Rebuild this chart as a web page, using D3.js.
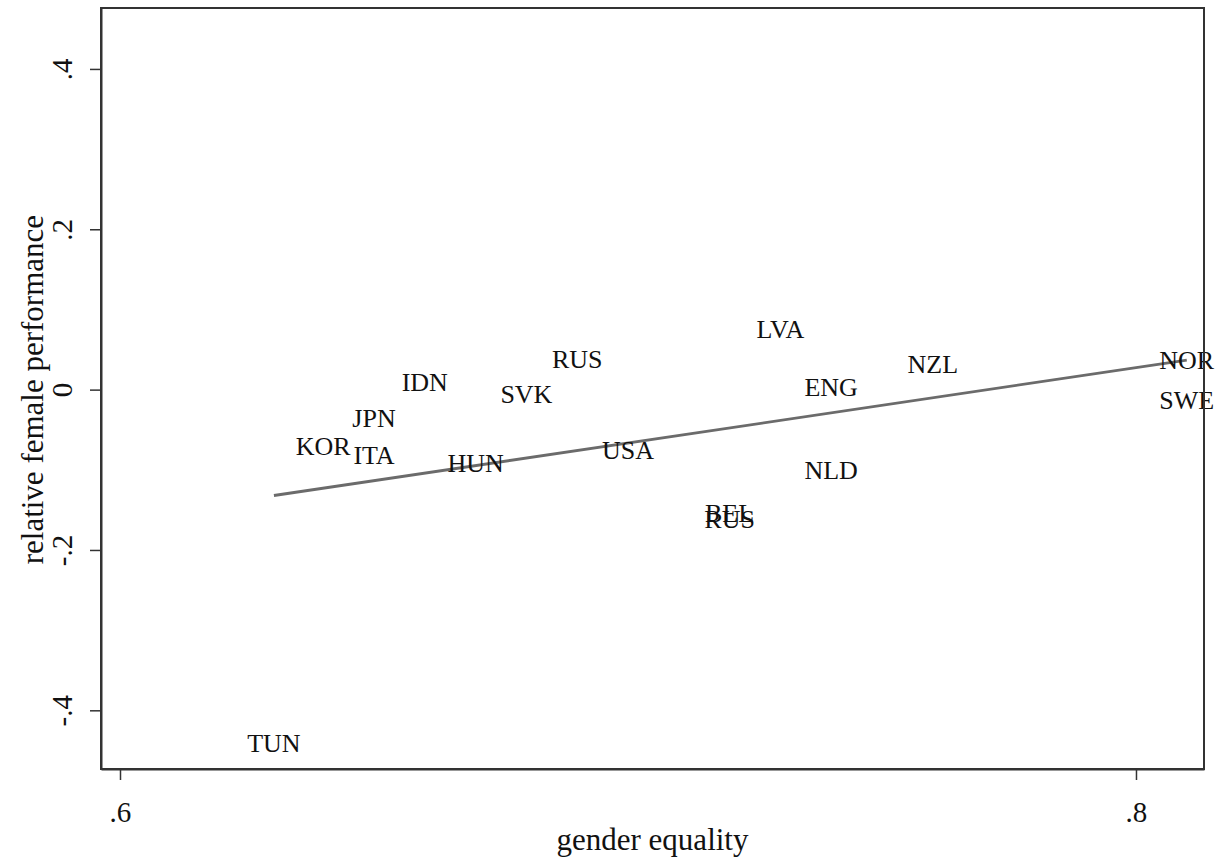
<!DOCTYPE html>
<html>
<head>
<meta charset="utf-8">
<script src="https://cdn.jsdelivr.net/npm/d3@7"></script>
<style>
  html, body { margin: 0; padding: 0; background: #fff; }
  svg { display: block; font-family: "Liberation Serif", "Times New Roman", serif; }
</style>
</head>
<body>
<svg id="chart" width="1216" height="860"></svg>
<script>
// Country codes, gender equality index and relative female performance
const countries = ["TUN", "KOR", "ITA", "JPN", "IDN", "HUN", "SVK", "RUS", "USA",
                   "BEL", "RUS", "LVA", "ENG", "NLD", "NZL", "NOR", "SWE"];
const genderEquality = [0.6303, 0.640, 0.650, 0.650, 0.660, 0.670, 0.680, 0.690, 0.700,
                        0.720, 0.720, 0.730, 0.740, 0.740, 0.760, 0.810, 0.810];
const femalePerf = [-0.441, -0.0705, -0.082, -0.0356, 0.0094, -0.0917, -0.0056, 0.038, -0.0755,
                    -0.155, -0.1616, 0.0755, 0.0031, -0.1004, 0.0318, 0.0368, -0.0131];

const xTicks = [0.6, 0.8];
const xTickLabels = [".6", ".8"];
const yTicks = [-0.4, -0.2, 0, 0.2, 0.4];
const yTickLabels = ["-.4", "-.2", "0", ".2", ".4"];

const W = 1216, H = 860;
const margin = { top: 8, right: 12, bottom: 91, left: 101 };

const svg = d3.select("#chart");

const x = d3.scaleLinear().domain([0.59626, 0.81339]).range([margin.left, W - margin.right]);
const y = d3.scaleLinear().domain([-0.4732, 0.476]).range([H - margin.bottom, margin.top]);

// Linear fit (OLS) of performance on gender equality
const n = genderEquality.length;
const mx = d3.mean(genderEquality), my = d3.mean(femalePerf);
let sxy = 0, sxx = 0;
for (let i = 0; i < n; i++) {
  sxy += (genderEquality[i] - mx) * (femalePerf[i] - my);
  sxx += (genderEquality[i] - mx) ** 2;
}
const slope = sxy / sxx, intercept = my - slope * mx;
const xMin = d3.min(genderEquality), xMax = d3.max(genderEquality);
const fit = [[xMin, intercept + slope * xMin], [xMax, intercept + slope * xMax]];

svg.append("path")
  .datum(fit)
  .attr("d", d3.line().x(d => x(d[0])).y(d => y(d[1])))
  .attr("fill", "none")
  .attr("stroke", "#6b6b6b")
  .attr("stroke-width", 2.8);

// Country labels used as markers
svg.append("g")
  .selectAll("text")
  .data(countries)
  .join("text")
  .attr("x", (d, i) => x(genderEquality[i]))
  .attr("y", (d, i) => y(femalePerf[i]))
  .attr("dy", "0.33em")
  .attr("text-anchor", "middle")
  .attr("font-size", 26)
  .attr("fill", "#111")
  .text(d => d);

// Plot region outline
svg.append("rect")
  .attr("x", margin.left)
  .attr("y", margin.top)
  .attr("width", W - margin.left - margin.right)
  .attr("height", H - margin.top - margin.bottom)
  .attr("fill", "none")
  .attr("stroke", "#333")
  .attr("stroke-width", 2);

// Y axis
const yAxis = svg.append("g")
  .attr("transform", `translate(${margin.left},0)`)
  .call(d3.axisLeft(y).tickValues(yTicks).tickSize(11).tickSizeOuter(0)
        .tickFormat((d, i) => yTickLabels[i]));
yAxis.select(".domain").attr("stroke", "#333").attr("stroke-width", 2);
yAxis.selectAll(".tick line").attr("stroke", "#333").attr("stroke-width", 1.5);
yAxis.selectAll(".tick text")
  .attr("x", 0).attr("y", -29).attr("dy", 0)
  .attr("transform", "rotate(-90)")
  .attr("text-anchor", "middle")
  .attr("font-size", 29)
  .attr("font-family", "Liberation Serif, Times New Roman, serif")
  .attr("fill", "#111");

// X axis
const xAxis = svg.append("g")
  .attr("transform", `translate(0,${H - margin.bottom})`)
  .call(d3.axisBottom(x).tickValues(xTicks).tickSize(11).tickSizeOuter(0)
        .tickFormat((d, i) => xTickLabels[i]));
xAxis.select(".domain").attr("stroke", "#333").attr("stroke-width", 2);
xAxis.selectAll(".tick line").attr("stroke", "#333").attr("stroke-width", 1.5);
xAxis.selectAll(".tick text")
  .attr("y", 53).attr("dy", 0)
  .attr("font-size", 29)
  .attr("font-family", "Liberation Serif, Times New Roman, serif")
  .attr("fill", "#111");

// Axis titles
svg.append("text")
  .attr("x", (margin.left + W - margin.right) / 2)
  .attr("y", 850)
  .attr("text-anchor", "middle")
  .attr("font-size", 31)
  .attr("fill", "#111")
  .text("gender equality");

svg.append("text")
  .attr("transform", `translate(43,${y(0)}) rotate(-90)`)
  .attr("text-anchor", "middle")
  .attr("font-size", 31)
  .attr("fill", "#111")
  .text("relative female performance");
</script>
</body>
</html>
